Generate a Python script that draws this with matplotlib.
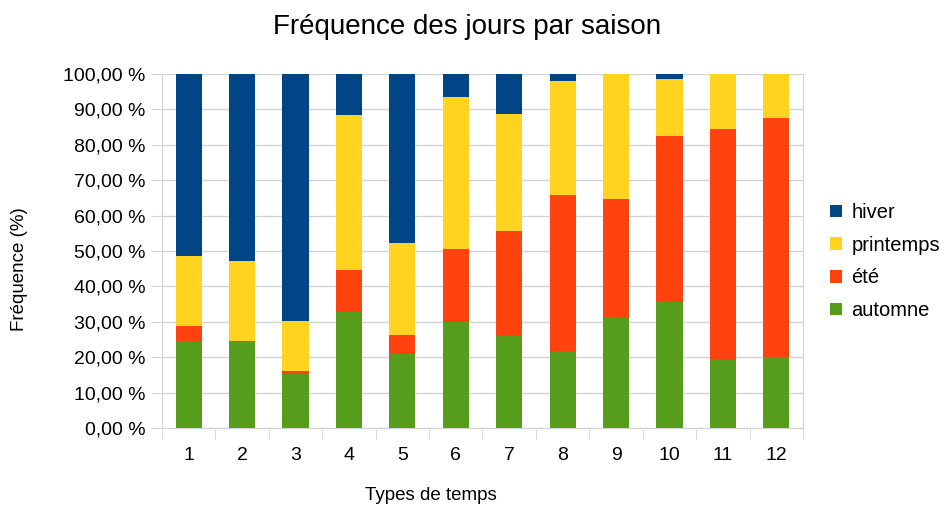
import matplotlib.pyplot as plt
from matplotlib.ticker import FuncFormatter
import numpy as np

plt.rcParams["font.family"] = ["Liberation Sans", "DejaVu Sans"]

types = [str(i) for i in range(1, 13)]
automne = [24.5, 24.3, 15.2, 32.7, 21.0, 30.0, 25.9, 21.7, 31.2, 35.6, 19.5, 20.0]
ete = [4.4, 0.2, 1.0, 12.0, 5.4, 20.7, 29.8, 44.1, 33.4, 47.0, 65.1, 67.7]
printemps = [19.8, 22.7, 13.9, 43.7, 25.9, 42.9, 32.9, 32.3, 35.4, 16.0, 15.4, 12.3]
hiver = [51.3, 52.8, 69.9, 11.6, 47.7, 6.4, 11.4, 1.9, 0.0, 1.4, 0.0, 0.0]

series = [
    ("automne", automne, "#579d1c"),
    ("été", ete, "#ff420e"),
    ("printemps", printemps, "#ffd320"),
    ("hiver", hiver, "#004586"),
]

fig = plt.figure(figsize=(9.44, 5.07), dpi=100)
ax = fig.add_axes([0.1716, 0.1558, 0.679, 0.6982])

x = np.arange(len(types))
bottom = np.zeros(len(types))
handles = []
for name, vals, color in series:
    h = ax.bar(x, vals, width=0.49, bottom=bottom, color=color, label=name,
               linewidth=0, zorder=3)
    handles.append(h)
    bottom += np.array(vals)

ax.set_xlim(-0.5, len(types) - 0.5)
ax.set_ylim(0, 100)
ax.set_yticks(np.arange(0, 101, 10))
ax.yaxis.set_major_formatter(FuncFormatter(lambda v, p: f"{v:.2f}".replace(".", ",") + " %"))
ax.set_xticks(x)
ax.set_xticklabels(types)
ax.set_xticks(np.arange(-0.5, len(types)), minor=True)

grid_c = "#d4d4d4"
ax.grid(axis="y", color=grid_c, linewidth=1, zorder=0)
ax.spines["top"].set_visible(False)
for s in ["left", "right", "bottom"]:
    ax.spines[s].set_color(grid_c)
ax.tick_params(axis="y", length=8, color=grid_c, labelsize=14, pad=4)
ax.tick_params(axis="x", which="major", length=0, labelsize=14, pad=14)
ax.tick_params(axis="x", which="minor", length=8, color=grid_c)

# axis titles placed in figure pixels
fig.text(431 / 944, 1 - 495 / 507, "Types de temps", fontsize=13.5,
         ha="center", va="center")
fig.text(20 / 944, 1 - 269 / 507, "Fréquence (%)", fontsize=13.5,
         ha="center", va="center", rotation=90)
fig.text(467 / 944, 1 - 27 / 507, "Fréquence des jours par saison",
         fontsize=20, ha="center", va="center")

ax.legend(handles[::-1], [s[0] for s in series][::-1], loc="center left",
          bbox_to_anchor=(1.03, 0.47), frameon=False, fontsize=14.5,
          handlelength=0.6, handleheight=0.6, handletextpad=0.45, labelspacing=0.68,
          borderaxespad=0)

fig.savefig("out.png", dpi=100)
